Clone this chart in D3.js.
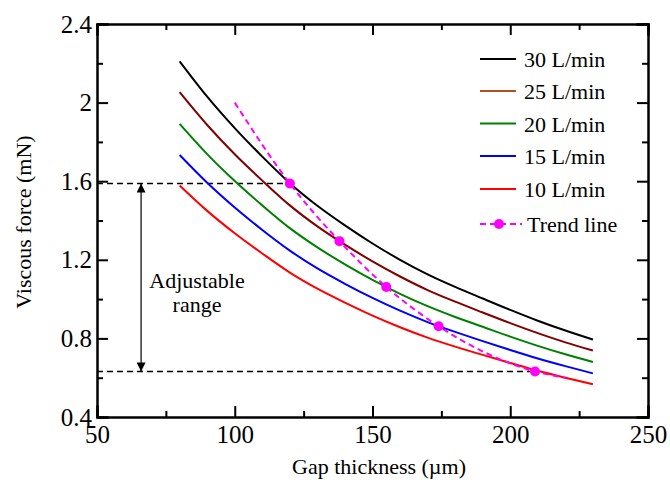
<!DOCTYPE html>
<html>
<head>
<meta charset="utf-8">
<script src="https://cdn.jsdelivr.net/npm/d3@7"></script>
<style>
  body { margin: 0; background: #fff; }
  .axis path, .axis line { stroke: #000; stroke-width: 2; }
</style>
</head>
<body>
<svg width="670" height="486"></svg>
<script>
// gap thickness (um) where the curves were read
const gaps = [80, 90, 100, 110, 120, 130, 140, 150, 160, 170, 180, 190, 200, 210, 220, 230];

// viscous force (mN) for each flow rate
const flow30 = [2.21, 2.03, 1.87, 1.725, 1.59, 1.475, 1.375, 1.283, 1.20, 1.126, 1.062, 1.003, 0.945, 0.890, 0.840, 0.794];
const flow25 = [2.053, 1.886, 1.737, 1.603, 1.477, 1.370, 1.277, 1.192, 1.115, 1.046, 0.987, 0.932, 0.878, 0.827, 0.780, 0.738];
const flow20 = [1.892, 1.738, 1.601, 1.477, 1.361, 1.263, 1.177, 1.098, 1.027, 0.964, 0.909, 0.859, 0.809, 0.762, 0.719, 0.680];
const flow15 = [1.733, 1.592, 1.466, 1.352, 1.247, 1.156, 1.078, 1.006, 0.941, 0.883, 0.833, 0.786, 0.741, 0.698, 0.659, 0.622];
const flow10 = [1.578, 1.449, 1.335, 1.232, 1.135, 1.053, 0.982, 0.916, 0.857, 0.804, 0.758, 0.716, 0.675, 0.635, 0.600, 0.567];

const seriesNames = ["30 L/min", "25 L/min", "20 L/min", "15 L/min", "10 L/min"];
const seriesColors = ["#000000", "#800000", "#008000", "#0000ff", "#ff0000"];
// the legend swatch for 25 L/min is a lighter brown than its curve
const legendColors = ["#000000", "#b4501e", "#008000", "#0000ff", "#ff0000"];

// trend line: dashed curve and its marked points
const trendX = [100, 120, 138, 155, 174, 209, 220];
const trendY = [2.0, 1.588, 1.295, 1.062, 0.862, 0.632, 0.60];
const markX = [120, 138, 155, 174, 209];
const markY = [1.588, 1.295, 1.062, 0.862, 0.632];

// adjustable range limits
const rangeTop = 1.588, rangeTopX = 120;
const rangeBottom = 0.632, rangeBottomX = 209;
const arrowX = 66;

const xTicks = [50, 100, 150, 200, 250];
const xMinor = [75, 125, 175, 225];
const yTicks = [0.4, 0.8, 1.2, 1.6, 2.0, 2.4];
const yMinor = [0.6, 1.0, 1.4, 1.8, 2.2];

const FONT = "Liberation Serif";

const margin = { top: 24, right: 22, bottom: 69, left: 97 },
    width = 670 - margin.left - margin.right,
    height = 486 - margin.top - margin.bottom;

const svg = d3.select("svg");

// arrowhead marker
const defs = svg.append("defs");
defs.append("marker")
    .attr("id", "arrow")
    .attr("viewBox", "0 0 10 10")
    .attr("refX", 10).attr("refY", 5)
    .attr("markerWidth", 14).attr("markerHeight", 9)
    .attr("markerUnits", "userSpaceOnUse")
    .attr("orient", "auto-start-reverse")
    .append("path")
    .attr("d", "M0,0 L10,5 L0,10 Z")
    .attr("fill", "#000");

const g = svg.append("g")
    .attr("transform", "translate(" + margin.left + "," + margin.top + ")");

const x = d3.scaleLinear().domain([50, 250]).range([0, width]);
const y = d3.scaleLinear().domain([0.4, 2.4]).range([height, 0]);

const line = d3.line()
    .x(d => x(d[0]))
    .y(d => y(d[1]))
    .curve(d3.curveMonotoneX);

// horizontal dashed guides
g.append("line")
    .attr("x1", x(50)).attr("x2", x(rangeTopX))
    .attr("y1", y(rangeTop)).attr("y2", y(rangeTop))
    .attr("stroke", "#000").attr("stroke-width", 1.5)
    .attr("stroke-dasharray", "6,4");
g.append("line")
    .attr("x1", x(50)).attr("x2", x(rangeBottomX))
    .attr("y1", y(rangeBottom)).attr("y2", y(rangeBottom))
    .attr("stroke", "#000").attr("stroke-width", 1.5)
    .attr("stroke-dasharray", "6,4");

// double arrow
g.append("line")
    .attr("x1", x(arrowX)).attr("x2", x(arrowX))
    .attr("y1", y(rangeTop)).attr("y2", y(rangeBottom))
    .attr("stroke", "#000").attr("stroke-width", 1.2)
    .attr("marker-start", "url(#arrow)")
    .attr("marker-end", "url(#arrow)");

g.append("text")
    .attr("x", 100).attr("y", 264)
    .attr("text-anchor", "middle")
    .style("font-family", FONT).style("font-size", "22px")
    .text("Adjustable");
g.append("text")
    .attr("x", 100).attr("y", 288)
    .attr("text-anchor", "middle")
    .style("font-family", FONT).style("font-size", "22px")
    .text("range");

// flow curves
const allSeries = [flow30, flow25, flow20, flow15, flow10];
allSeries.forEach((vals, i) => {
    g.append("path")
        .datum(gaps.map((gx, j) => [gx, vals[j]]))
        .attr("fill", "none")
        .attr("stroke", seriesColors[i])
        .attr("stroke-width", 2)
        .attr("d", line);
});

// trend line
g.append("path")
    .datum(trendX.map((tx, j) => [tx, trendY[j]]))
    .attr("fill", "none")
    .attr("stroke", "#ff00ff")
    .attr("stroke-width", 2)
    .attr("stroke-dasharray", "6,4")
    .attr("d", line);

g.selectAll(".mark")
    .data(markX.map((mx, j) => [mx, markY[j]]))
    .enter().append("circle")
    .attr("class", "mark")
    .attr("cx", d => x(d[0]))
    .attr("cy", d => y(d[1]))
    .attr("r", 5)
    .attr("fill", "#ff00ff");

// axes: major ticks inward, minor ticks shorter
g.append("g").attr("class", "axis")
    .attr("transform", "translate(0," + height + ")")
    .call(d3.axisBottom(x).tickValues(xTicks).tickSize(-11).tickPadding(8).tickFormat(d3.format("d")));
g.append("g").attr("class", "axis")
    .attr("transform", "translate(0," + height + ")")
    .call(d3.axisBottom(x).tickValues(xMinor).tickSize(-6).tickFormat(""));
g.append("g").attr("class", "axis")
    .call(d3.axisTop(x).tickValues(xTicks).tickSize(-11).tickFormat(""));
g.append("g").attr("class", "axis")
    .call(d3.axisTop(x).tickValues(xMinor).tickSize(-6).tickFormat(""));

g.append("g").attr("class", "axis")
    .call(d3.axisLeft(y).tickValues(yTicks).tickSize(-11).tickPadding(5)
        .tickFormat(d => d === 2 ? "2" : d3.format(".1f")(d)));
g.append("g").attr("class", "axis")
    .call(d3.axisLeft(y).tickValues(yMinor).tickSize(-6).tickFormat(""));
g.append("g").attr("class", "axis")
    .attr("transform", "translate(" + width + ",0)")
    .call(d3.axisRight(y).tickValues(yTicks).tickSize(-11).tickFormat(""));
g.append("g").attr("class", "axis")
    .attr("transform", "translate(" + width + ",0)")
    .call(d3.axisRight(y).tickValues(yMinor).tickSize(-6).tickFormat(""));

g.selectAll(".axis text")
    .style("font-family", FONT)
    .style("font-size", "25px")
    .attr("fill", "#000");
g.selectAll(".axis .domain").attr("stroke-linecap", "square");

// axis titles
svg.append("text")
    .attr("x", 379).attr("y", 474)
    .attr("text-anchor", "middle")
    .style("font-family", FONT).style("font-size", "22px")
    .text("Gap thickness (\u00b5m)");
svg.append("text")
    .attr("transform", "translate(31,222) rotate(-90)")
    .attr("text-anchor", "middle")
    .style("font-family", FONT).style("font-size", "22px")
    .text("Viscous force (mN)");

// legend
const legend = svg.append("g");
const rowY = [59, 91, 123.5, 156, 189, 224];
seriesNames.forEach((name, i) => {
    legend.append("line")
        .attr("x1", 480).attr("x2", 516)
        .attr("y1", rowY[i]).attr("y2", rowY[i])
        .attr("stroke", legendColors[i]).attr("stroke-width", 2);
    legend.append("text")
        .attr("x", 524).attr("y", rowY[i] + 8)
        .style("font-family", FONT).style("font-size", "22px")
        .text(name);
});
legend.append("line")
    .attr("x1", 480).attr("x2", 522)
    .attr("y1", rowY[5]).attr("y2", rowY[5])
    .attr("stroke", "#ff00ff").attr("stroke-width", 2)
    .attr("stroke-dasharray", "6,4");
legend.append("circle")
    .attr("cx", 499).attr("cy", rowY[5]).attr("r", 5)
    .attr("fill", "#ff00ff");
legend.append("text")
    .attr("x", 527).attr("y", rowY[5] + 8)
    .style("font-family", FONT).style("font-size", "22px")
    .text("Trend line");
</script>
</body>
</html>
